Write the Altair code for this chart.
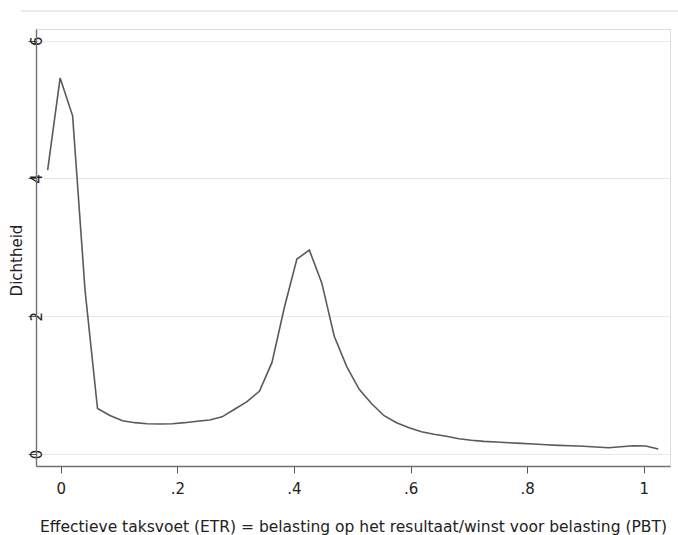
import altair as alt
import pandas as pd

etr = [-0.0225, -0.0011, 0.0203, 0.0416, 0.0630, 0.0844, 0.1058, 0.1271, 0.1485, 0.1699,
       0.1913, 0.2126, 0.2340, 0.2554, 0.2768, 0.2981, 0.3195, 0.3409, 0.3623, 0.3836,
       0.4050, 0.4264, 0.4478, 0.4691, 0.4905, 0.5119, 0.5333, 0.5546, 0.5760, 0.5974,
       0.6188, 0.6401, 0.6615, 0.6829, 0.7043, 0.7256, 0.7470, 0.7684, 0.7898, 0.8111,
       0.8325, 0.8539, 0.8753, 0.8966, 0.9180, 0.9394, 0.9608, 0.9821, 1.0035, 1.0249]
density = [4.12, 5.46, 4.91, 2.38, 0.66, 0.56, 0.484, 0.455, 0.44, 0.436,
           0.44, 0.455, 0.475, 0.494, 0.54, 0.65, 0.76, 0.915, 1.33, 2.13,
           2.83, 2.96, 2.48, 1.71, 1.27, 0.94, 0.73, 0.556, 0.455, 0.38,
           0.324, 0.286, 0.257, 0.222, 0.199, 0.184, 0.174, 0.164, 0.155, 0.145,
           0.135, 0.126, 0.121, 0.112, 0.102, 0.092, 0.106, 0.121, 0.116, 0.073]

x_ticks = [0, 0.2, 0.4, 0.6, 0.8, 1]
y_ticks = [0, 2, 4, 6]

df = pd.DataFrame({"etr": etr, "density": density})

FONT = "DejaVu Sans"

x_enc = alt.X(
    "etr:Q",
    scale=alt.Scale(domain=[-0.0425, 1.045], nice=False, zero=False),
    axis=alt.Axis(
        values=x_ticks,
        labelExpr="datum.value == 0 ? '0' : datum.value == 1 ? '1' : replace(format(datum.value, '.1f'), '0.', '.')",
        title="Effectieve taksvoet (ETR) = belasting op het resultaat/winst voor belasting (PBT)",
        grid=False,
        domainColor="#707070",
        domainWidth=1.4,
        tickColor="#555555",
        tickSize=7,
        labelPadding=8,
        labelFontSize=15,
        labelColor="#222222",
        titleFontSize=15.5,
        titleFontWeight="normal",
        titleColor="#222222",
        titlePadding=23,
        labelFont=FONT,
        titleFont=FONT,
    ),
)

y_enc = alt.Y(
    "density:Q",
    scale=alt.Scale(domain=[-0.174, 6.17], nice=False, zero=False),
    axis=alt.Axis(
        values=y_ticks,
        title="Dichtheid",
        grid=True,
        gridColor="#e8e8e8",
        gridWidth=1.2,
        domainColor="#707070",
        domainWidth=1.4,
        tickColor="#555555",
        tickSize=8,
        labelAngle=-90,
        labelAlign="center",
        labelBaseline="middle",
        labelPadding=-8,
        labelFontSize=15,
        labelColor="#222222",
        titleFontSize=15,
        titleFontWeight="normal",
        titleColor="#222222",
        titleAlign="center",
        titlePadding=3,
        titleY=231,
        labelFont=FONT,
        titleFont=FONT,
    ),
)

line = alt.Chart(df).mark_line(color="#5a5a5a", strokeWidth=1.6).encode(x=x_enc, y=y_enc)

frame = alt.Chart(df).mark_rule(color="#ebebeb", strokeWidth=1.5).encode(
    x=alt.value(-15), x2=alt.value(642), y=alt.value(-18)
)

chart = alt.layer(line, frame).properties(
    width=634,
    height=437,
    autosize=alt.AutoSizeParams(type="none"),
    padding={"left": 36, "top": 29, "right": 8, "bottom": 69},
).configure_view(stroke=None).configure(background="white")

chart.save("out.html", embed_options={"renderer": "svg", "actions": False})
